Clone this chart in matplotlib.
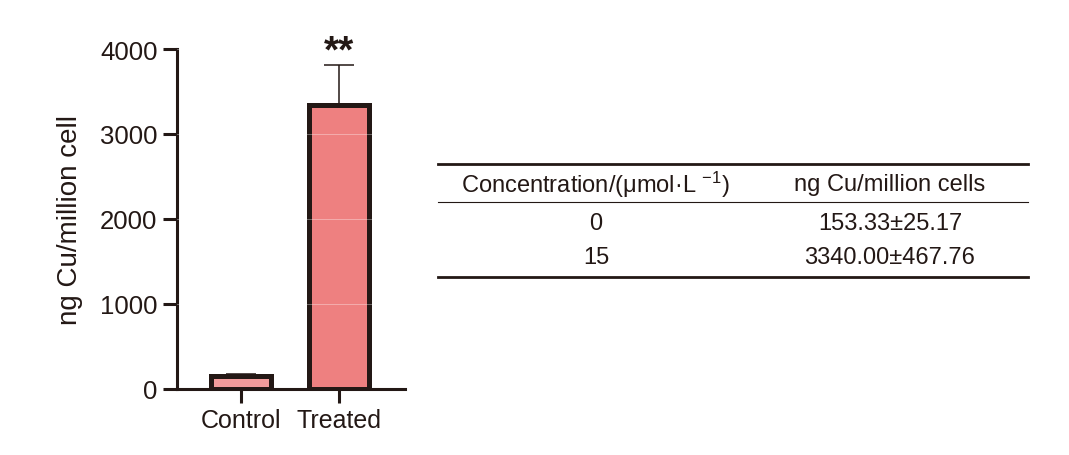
import matplotlib
matplotlib.use('Agg')
import matplotlib.pyplot as plt
from matplotlib.lines import Line2D

plt.rcParams['font.family'] = ['Liberation Sans', 'DejaVu Sans']
plt.rcParams['mathtext.fontset'] = 'custom'
plt.rcParams['mathtext.rm'] = 'Liberation Sans'
plt.rcParams['mathtext.it'] = 'Liberation Sans'

# Data ########################################################################
groups = ['Control', 'Treated']
means = [153.33, 3340.00]
sds = [25.17, 467.76]
concentrations = ['0', '15']
bar_colors = ['#F29B9B', '#EE8080']
y_ticks = [0, 1000, 2000, 3000, 4000]
INK = '#231815'

W, H = 1069, 456
fig = plt.figure(figsize=(W / 100, H / 100), dpi=100)

# Bar chart ###################################################################
ax = fig.add_axes([177 / W, 66 / H, 228 / W, 340 / H])
x = list(range(len(groups)))
ax.bar(x, means, width=0.61, color=bar_colors, edgecolor=INK,
       linewidth=3.6, zorder=2)
ax.errorbar(x, means, yerr=[[0] * len(sds), sds], fmt='none',
            ecolor=INK, elinewidth=1.1, capsize=10.5, capthick=1.1,
            zorder=1)
for t in y_ticks[1:]:
    ax.axhline(t, color='white', lw=0.7, alpha=0.35, zorder=3)
ax.text(1, means[1] + sds[1] + 50, '**', ha='center', va='baseline',
        fontsize=28, fontweight='bold', color=INK)

ax.set_xlim(-0.653, 1.673)
ax.set_ylim(0, 4000)
ax.set_yticks(y_ticks)
ax.set_xticks(x)
ax.set_xticklabels(groups)
ax.set_ylabel('ng Cu/million cell', fontsize=20, labelpad=12, color=INK)
for s in ['top', 'right']:
    ax.spines[s].set_visible(False)
for s in ['left', 'bottom']:
    ax.spines[s].set_linewidth(2.2)
    ax.spines[s].set_color(INK)
ax.tick_params(axis='both', width=2.2, length=10, color=INK,
               labelcolor=INK, pad=4)
ax.tick_params(axis='y', labelsize=18.5)
ax.tick_params(axis='x', labelsize=18)

# Table #######################################################################
x0, x1 = 438 / W, 1028 / W
col1, col2 = 596 / W, 890 / W
for yy, lw in [(165, 2.0), (203, 0.8), (278, 2.0)]:
    fig.add_artist(Line2D([x0, x1], [1 - yy / H] * 2, color=INK,
                          lw=lw, transform=fig.transFigure))
fs = 17
fig.text(col1, 1 - 185 / H, r'Concentration/(μmol·L $^{-1}$)', ha='center',
         va='center', fontsize=fs, color=INK)
fig.text(col2, 1 - 185 / H, 'ng Cu/million cells', ha='center',
         va='center', fontsize=fs, color=INK)
for i, yy in enumerate([224, 258]):
    fig.text(col1, 1 - yy / H, concentrations[i], ha='center', va='center',
             fontsize=fs, color=INK)
    fig.text(col2, 1 - yy / H, '%.2f±%.2f' % (means[i], sds[i]),
             ha='center', va='center', fontsize=fs, color=INK)

plt.savefig('out.png', dpi=100)
plt.close()
